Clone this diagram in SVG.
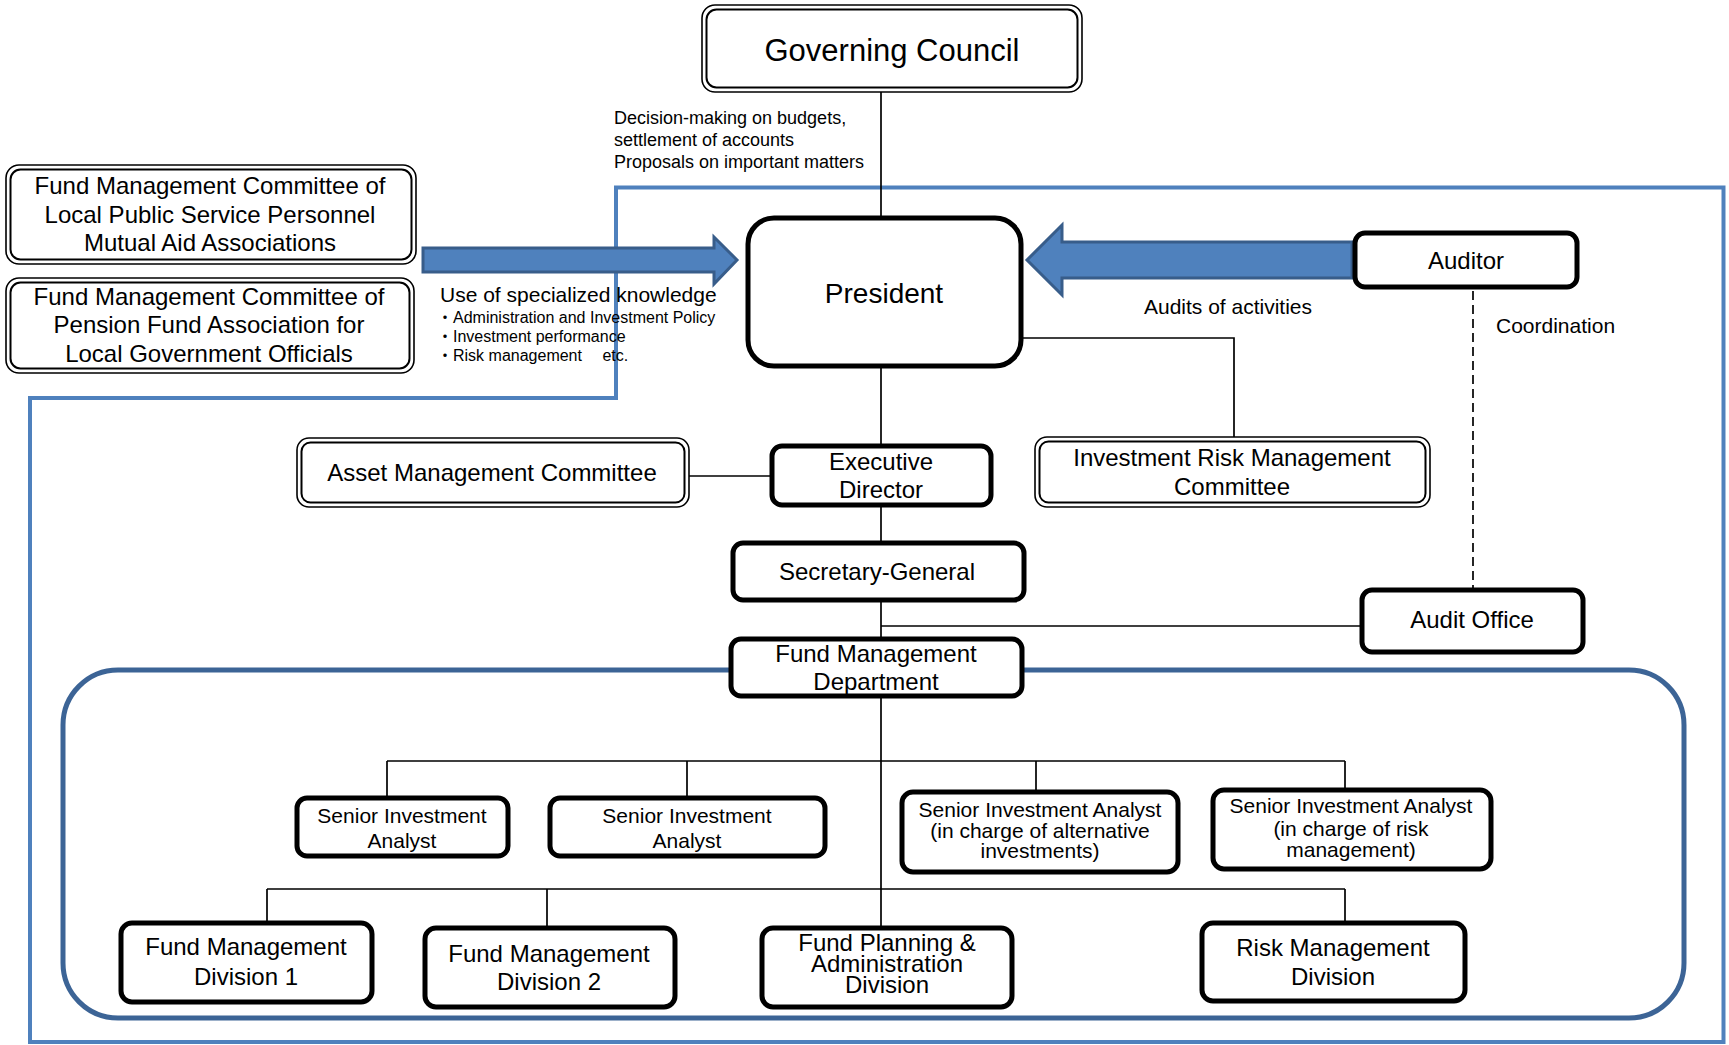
<svg xmlns="http://www.w3.org/2000/svg" width="1729" height="1045" viewBox="0 0 1729 1045">
<style>
.t{font-family:"Liberation Sans",Arial,"Noto Sans CJK JP",sans-serif;fill:#000;text-anchor:middle}
.l{text-anchor:start}
.thick{fill:#fff;stroke:#000;stroke-width:5}
.dbo{fill:#fff;stroke:#000;stroke-width:1.6}
.dbi{fill:none;stroke:#000;stroke-width:2}
.conn{fill:none;stroke:#000;stroke-width:1.7}
.fat{fill:#4F81BD;stroke:#385D8A;stroke-width:3}
</style>
<rect width="1729" height="1045" fill="#fff"/>
<g id="frames">
<path d="M616 187.5 H1723.5 V1042 H30 V398 H616 Z" fill="none" stroke="#4F81BD" stroke-width="4"/>
<rect x="63" y="670" width="1621" height="348" rx="55" fill="none" stroke="#3C6496" stroke-width="5"/>
</g>
<g id="connectors">
<path class="conn" d="M881 92 V218"/>
<path class="conn" d="M881 366 V446"/>
<path class="conn" d="M881 505 V543"/>
<path class="conn" d="M881 600 V639"/>
<path class="conn" d="M881 626 H1362"/>
<path class="conn" d="M1021 338 H1234 V437"/>
<path class="conn" d="M689 476 H772"/>
<path class="conn" d="M881 696 V928"/>
<path class="conn" d="M387 761 H1345 M387 761 V798 M687 761 V798 M1036 761 V792 M1345 761 V790"/>
<path class="conn" d="M267 889 H1345 M267 889 V923 M547 889 V928 M1345 889 V923"/>
<path class="conn" d="M1473 291 V590" stroke-dasharray="9 5"/>
<polygon class="fat" points="423,248 714,248 714,237 737,260 714,284 714,272 423,272"/>
<polygon class="fat" points="1352,242 1062,242 1062,225 1027,260 1062,295 1062,278 1352,278"/>
</g>
<g id="governing-council">
<rect class="dbo" x="702" y="5" width="380" height="87" rx="13"/>
<rect class="dbi" x="706.5" y="9.5" width="371" height="78" rx="10"/>
<text class="t" x="892" y="61" font-size="31">Governing Council</text>
</g>
<g id="president">
<rect class="thick" x="748" y="218" width="273" height="148" rx="26"/>
<text class="t" x="884" y="303" font-size="28">President</text>
</g>
<g id="auditor">
<rect class="thick" x="1355" y="233" width="222" height="54" rx="10"/>
<text class="t" x="1466" y="269" font-size="24">Auditor</text>
</g>
<g id="committee-mutual-aid">
<rect class="dbo" x="6" y="165" width="410" height="99" rx="13"/>
<rect class="dbi" x="10.5" y="169.5" width="401" height="90" rx="10"/>
<text class="t" x="210" y="194" font-size="24">Fund Management Committee of</text>
<text class="t" x="210" y="223" font-size="24">Local Public Service Personnel</text>
<text class="t" x="210" y="251" font-size="24">Mutual Aid Associations</text>
</g>
<g id="committee-pension-fund">
<rect class="dbo" x="6" y="278" width="408" height="95" rx="13"/>
<rect class="dbi" x="10.5" y="282.5" width="399" height="86" rx="10"/>
<text class="t" x="209" y="305" font-size="24">Fund Management Committee of</text>
<text class="t" x="209" y="333" font-size="24">Pension Fund Association for</text>
<text class="t" x="209" y="362" font-size="24">Local Government Officials</text>
</g>
<g id="asset-management-committee">
<rect class="dbo" x="297" y="438" width="392" height="69" rx="12"/>
<rect class="dbi" x="301.5" y="442.5" width="383" height="60" rx="9"/>
<text class="t" x="492" y="481" font-size="24">Asset Management Committee</text>
</g>
<g id="executive-director">
<rect class="thick" x="772" y="446" width="219" height="59" rx="10"/>
<text class="t" x="881" y="470" font-size="24">Executive</text>
<text class="t" x="881" y="498" font-size="24">Director</text>
</g>
<g id="investment-risk-management-committee">
<rect class="dbo" x="1035" y="437" width="395" height="70" rx="12"/>
<rect class="dbi" x="1039.5" y="441.5" width="386" height="61" rx="9"/>
<text class="t" x="1232" y="466" font-size="24">Investment Risk Management</text>
<text class="t" x="1232" y="495" font-size="24">Committee</text>
</g>
<g id="secretary-general">
<rect class="thick" x="733" y="543" width="291" height="57" rx="10"/>
<text class="t" x="877" y="580" font-size="24">Secretary-General</text>
</g>
<g id="audit-office">
<rect class="thick" x="1362" y="590" width="221" height="62" rx="10"/>
<text class="t" x="1472" y="628" font-size="24">Audit Office</text>
</g>
<g id="fund-management-department">
<rect class="thick" x="731" y="639" width="291" height="57" rx="10"/>
<text class="t" x="876" y="662" font-size="24">Fund Management</text>
<text class="t" x="876" y="690" font-size="24">Department</text>
</g>
<g id="senior-analyst-1">
<rect class="thick" x="297" y="798" width="211" height="58" rx="10"/>
<text class="t" x="402" y="823" font-size="21">Senior Investment</text>
<text class="t" x="402" y="848" font-size="21">Analyst</text>
</g>
<g id="senior-analyst-2">
<rect class="thick" x="550" y="798" width="275" height="58" rx="10"/>
<text class="t" x="687" y="823" font-size="21">Senior Investment</text>
<text class="t" x="687" y="848" font-size="21">Analyst</text>
</g>
<g id="senior-analyst-alternative">
<rect class="thick" x="902" y="792" width="276" height="80" rx="11"/>
<text class="t" x="1040" y="817" font-size="21">Senior Investment Analyst</text>
<text class="t" x="1040" y="838" font-size="21">(in charge of alternative</text>
<text class="t" x="1040" y="858" font-size="21">investments)</text>
</g>
<g id="senior-analyst-risk">
<rect class="thick" x="1213" y="790" width="278" height="79" rx="11"/>
<text class="t" x="1351" y="813" font-size="21">Senior Investment Analyst</text>
<text class="t" x="1351" y="836" font-size="21">(in charge of risk</text>
<text class="t" x="1351" y="857" font-size="21">management)</text>
</g>
<g id="fund-management-division-1">
<rect class="thick" x="121" y="923" width="251" height="79" rx="11"/>
<text class="t" x="246" y="955" font-size="24">Fund Management</text>
<text class="t" x="246" y="985" font-size="24">Division 1</text>
</g>
<g id="fund-management-division-2">
<rect class="thick" x="425" y="928" width="250" height="79" rx="11"/>
<text class="t" x="549" y="962" font-size="24">Fund Management</text>
<text class="t" x="549" y="990" font-size="24">Division 2</text>
</g>
<g id="fund-planning-administration-division">
<rect class="thick" x="762" y="928" width="250" height="79" rx="11"/>
<text class="t" x="887" y="951" font-size="24">Fund Planning &amp;</text>
<text class="t" x="887" y="972" font-size="24">Administration</text>
<text class="t" x="887" y="993" font-size="24">Division</text>
</g>
<g id="risk-management-division">
<rect class="thick" x="1202" y="923" width="263" height="78" rx="11"/>
<text class="t" x="1333" y="956" font-size="24">Risk Management</text>
<text class="t" x="1333" y="985" font-size="24">Division</text>
</g>
<g id="labels">
<text class="t l" x="614" y="124" font-size="18">Decision-making on budgets,</text>
<text class="t l" x="614" y="146" font-size="18">settlement of accounts</text>
<text class="t l" x="614" y="168" font-size="18">Proposals on important matters</text>
<text class="t l" x="440" y="302" font-size="21">Use of specialized knowledge</text>
<text class="t l" x="437" y="323" font-size="16">・Administration and Investment Policy</text>
<text class="t l" x="437" y="342" font-size="16">・Investment performance</text>
<text class="t l" x="437" y="361" font-size="16">・Risk management　 etc.</text>
<text class="t" x="1228" y="314" font-size="21">Audits of activities</text>
<text class="t l" x="1496" y="333" font-size="21">Coordination</text>
</g>
</svg>
